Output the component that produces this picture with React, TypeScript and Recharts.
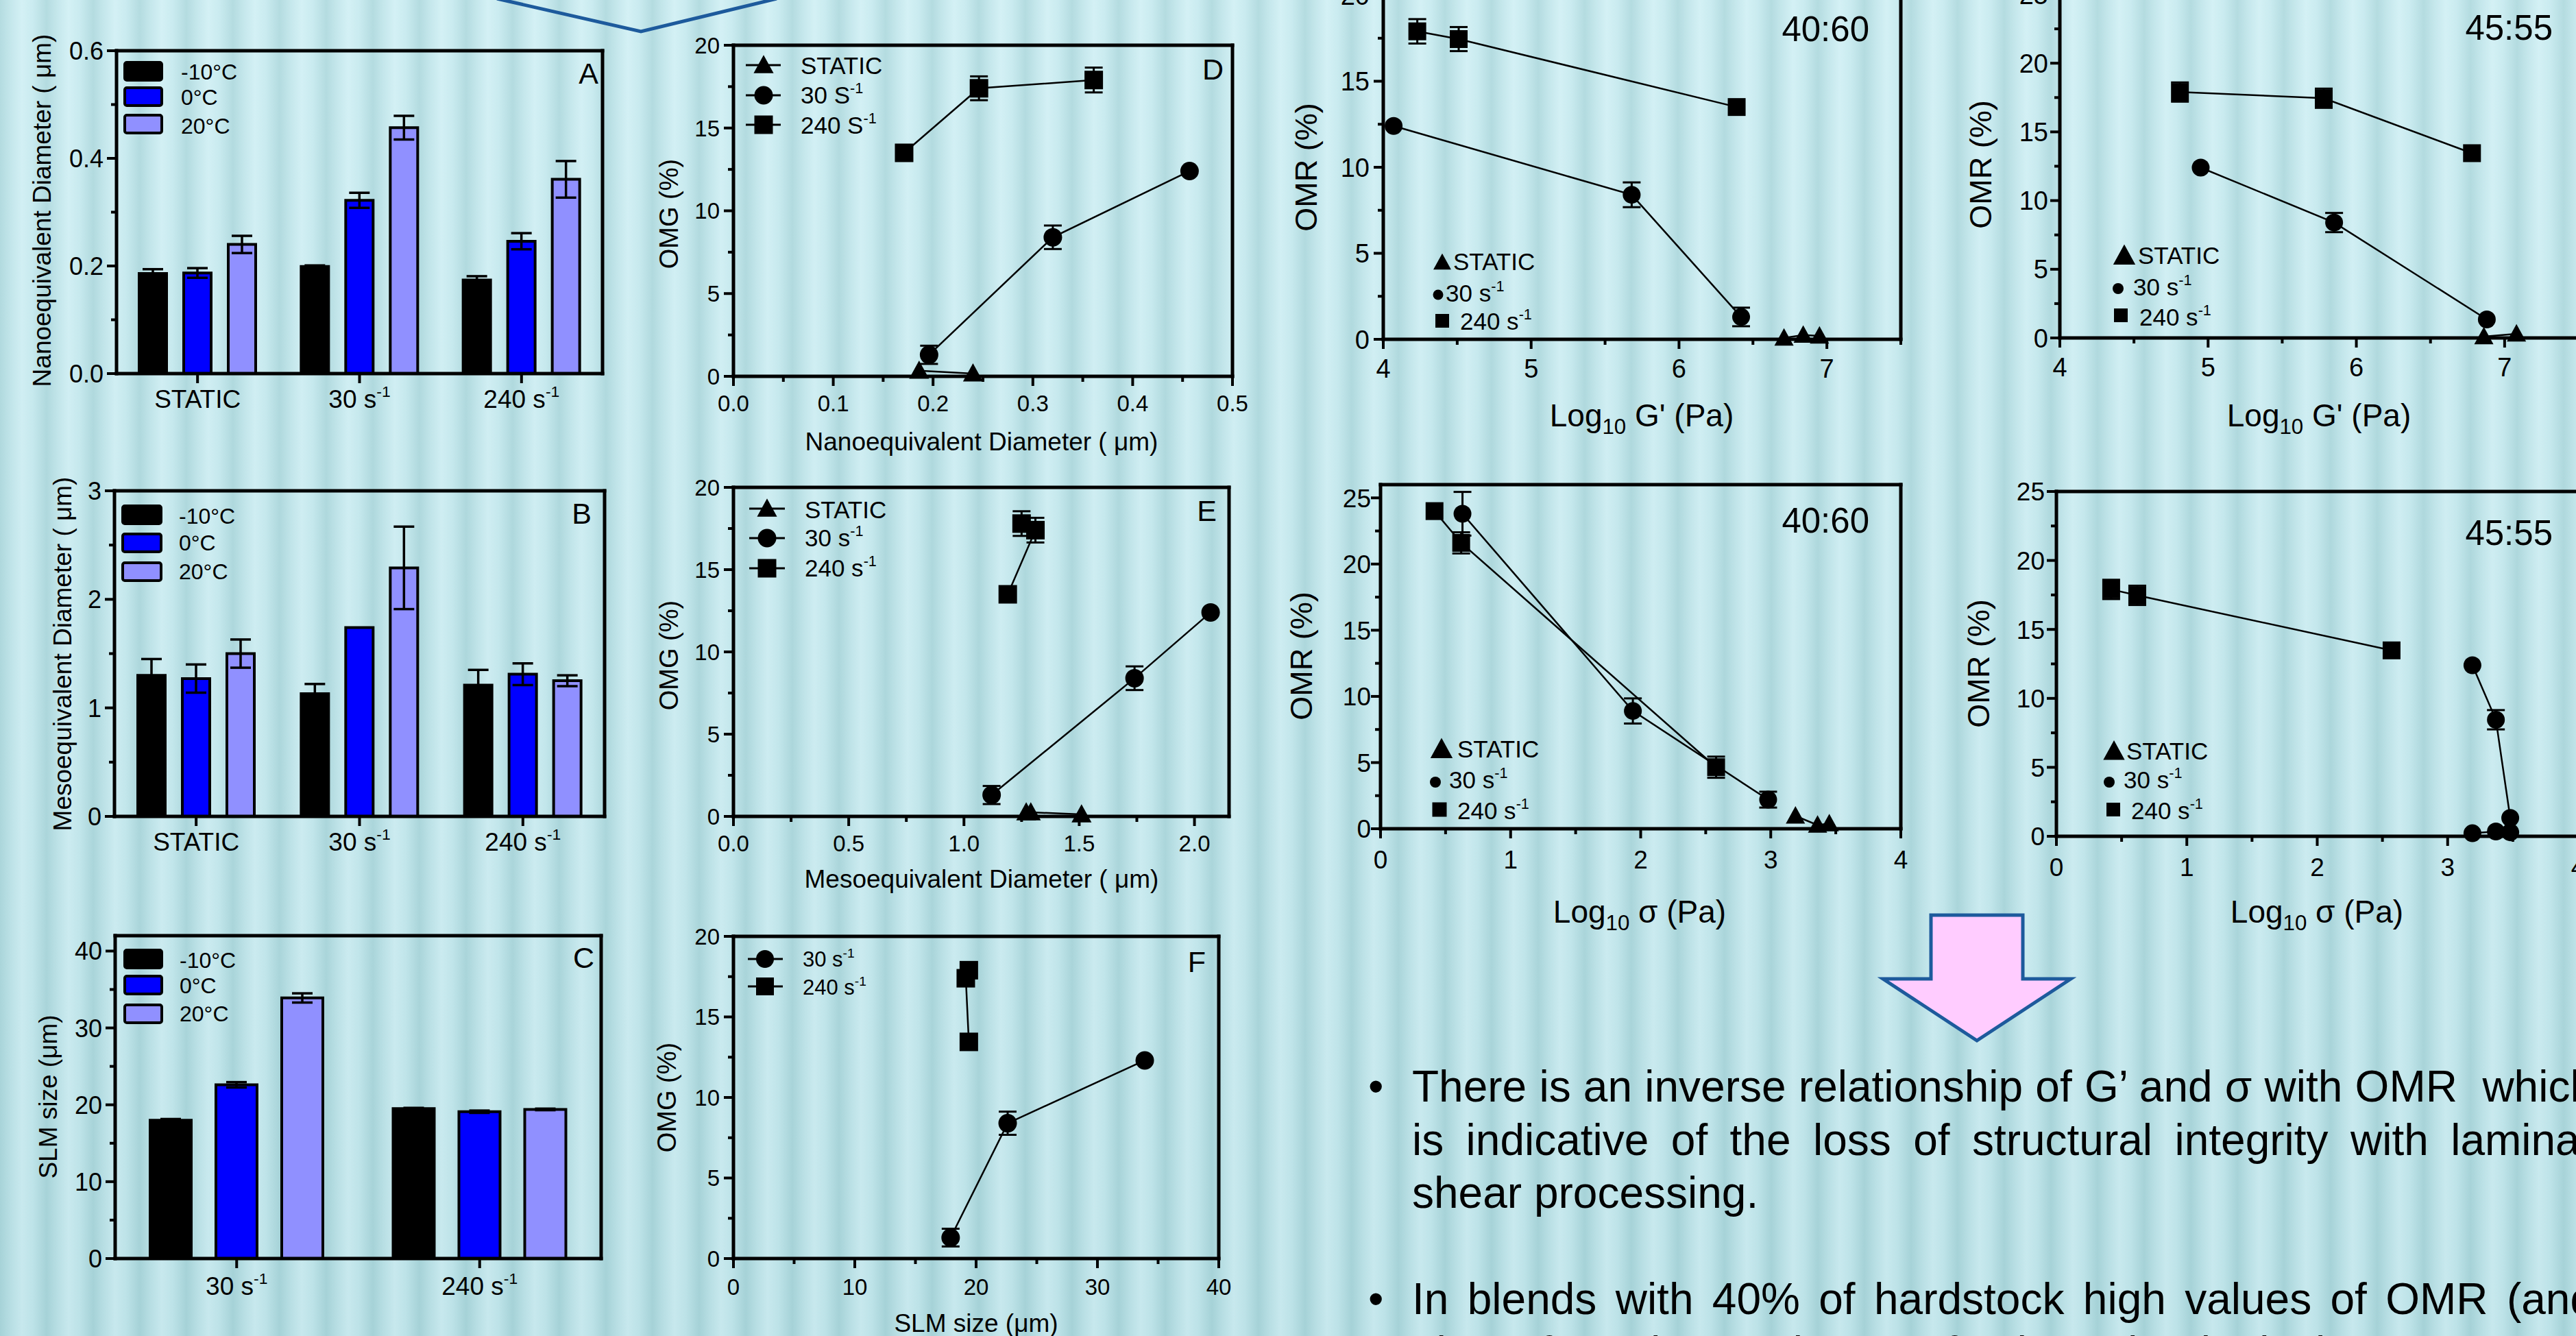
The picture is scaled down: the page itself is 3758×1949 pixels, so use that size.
import React from 'react';
import { BarChart, Bar, XAxis, YAxis, ErrorBar, ScatterChart, Scatter } from 'recharts';

const FONT = "'Liberation Sans', Arial, Helvetica, sans-serif";
const INK = '#000000';
const C_M10 = '#000000';
const C_0 = '#0000ff';
const C_20 = '#9090ff';

// ===================== DATA =====================
const catsShear3 = ['STATIC', '30 s-1', '240 s-1'];
const catsShear2 = ['30 s-1', '240 s-1'];
const tempLabels = ['-10°C', '0°C', '20°C'];

// A: nanoequivalent diameter (µm)
const nanoM10 = [0.186, 0.199, 0.174];
const nanoM10Err = [0.008, 0.002, 0.007];
const nano0 = [0.187, 0.322, 0.246];
const nano0Err = [0.009, 0.014, 0.015];
const nano20 = [0.24, 0.457, 0.361];
const nano20Err = [0.016, 0.022, 0.034];

// B: mesoequivalent diameter (µm)
const mesoM10 = [1.3, 1.13, 1.21];
const mesoM10Err = [0.15, 0.09, 0.14];
const meso0 = [1.27, 1.74, 1.31];
const meso0Err = [0.13, 0, 0.1];
const meso20 = [1.5, 2.29, 1.25];
const meso20Err = [0.13, 0.38, 0.05];

// C: SLM size (µm)
const slmM10 = [18.0, 19.5];
const slmM10Err = [0.15, 0.1];
const slm0 = [22.6, 19.1];
const slm0Err = [0.35, 0.15];
const slm20 = [33.9, 19.4];
const slm20Err = [0.6, 0.1];

// D: OMG vs nanoequivalent diameter
const dStaticX = [0.186, 0.24];
const dStaticY = [0.34, 0.17];
const d30X = [0.196, 0.32, 0.457];
const d30Y = [1.3, 8.4, 12.4];
const d30Err = [0.55, 0.71, 0];
const d240X = [0.171, 0.246, 0.361];
const d240Y = [13.5, 17.4, 17.9];
const d240Err = [0, 0.72, 0.75];

// E: OMG vs mesoequivalent diameter
const eStaticX = [1.27, 1.29, 1.51];
const eStaticY = [0.25, 0.25, 0.12];
const e30X = [1.12, 1.74, 2.07];
const e30Y = [1.3, 8.4, 12.4];
const e30Err = [0.55, 0.72, 0];
const e240X = [1.19, 1.31, 1.25];
const e240Y = [13.5, 17.4, 17.8];
const e240Err = [0, 0.75, 0.75];

// F: OMG vs SLM size
const f30X = [17.9, 22.6, 33.9];
const f30Y = [1.3, 8.4, 12.3];
const f30Err = [0.55, 0.72, 0];
const f240X = [19.4, 19.15, 19.4];
const f240Y = [13.45, 17.4, 17.9];

// OMR vs log G' (40:60)
const g1StaticX = [6.71, 6.84, 6.95];
const g1StaticY = [0.08, 0.25, 0.2];
const g130X = [4.07, 5.68, 6.42];
const g130Y = [12.4, 8.4, 1.3];
const g130Err = [0, 0.72, 0.54];
const g1240X = [4.23, 4.51, 6.39];
const g1240Y = [17.9, 17.45, 13.5];
const g1240Err = [0.71, 0.7, 0];

// OMR vs log G' (45:55)
const g2StaticX = [6.86, 7.08];
const g2StaticY = [0.1, 0.3];
const g230X = [4.95, 5.85, 6.88];
const g230Y = [12.4, 8.4, 1.35];
const g230Err = [0, 0.7, 0];
const g2240X = [4.81, 5.78, 6.78];
const g2240Y = [17.9, 17.45, 13.45];
const g2240Err = [0.7, 0.7, 0];

// OMR vs log sigma (40:60)
const s1StaticX = [3.19, 3.36, 3.45];
const s1StaticY = [0.97, 0.28, 0.39];
const s130X = [0.63, 1.94, 2.98];
const s130Y = [23.8, 8.9, 2.2];
const s130Err = [1.65, 0.95, 0.6];
const s1240X = [0.415, 0.62, 2.58];
const s1240Y = [24.0, 21.6, 4.65];
const s1240Err = [0, 0.8, 0.8];

// OMR vs log sigma (45:55)
const s2StaticX = [3.19, 3.37, 3.48];
const s2StaticY = [0.22, 0.35, 0.29];
const s230X = [3.19, 3.37, 3.48];
const s230Y = [12.4, 8.45, 1.33];
const s230Err = [0, 0.7, 0];
const s2240X = [0.42, 0.62, 2.57];
const s2240Y = [17.9, 17.47, 13.48];
const s2240Err = [0.7, 0.7, 0];

// tick values
const ticksNanoY = [0, 0.1, 0.2, 0.3, 0.4, 0.5, 0.6];
const majorsNanoY = [0, 0.2, 0.4, 0.6];
const ticksMesoY = [0, 0.5, 1, 1.5, 2, 2.5, 3];
const majorsMesoY = [0, 1, 2, 3];
const ticksSlmY = [0, 5, 10, 15, 20, 25, 30, 35, 40];
const majorsSlmY = [0, 10, 20, 30, 40];
const ticksOmgY = [0, 2.5, 5, 7.5, 10, 12.5, 15, 17.5, 20];
const majorsOmgY = [0, 5, 10, 15, 20];
const ticksNanoX = [0, 0.05, 0.1, 0.15, 0.2, 0.25, 0.3, 0.35, 0.4, 0.45, 0.5];
const majorsNanoX = [0, 0.1, 0.2, 0.3, 0.4, 0.5];
const ticksMesoX = [0, 0.25, 0.5, 0.75, 1, 1.25, 1.5, 1.75, 2];
const majorsMesoX = [0, 0.5, 1, 1.5, 2];
const ticksSlmX = [0, 5, 10, 15, 20, 25, 30, 35, 40];
const majorsSlmX = [0, 10, 20, 30, 40];
const ticksGX = [4, 4.5, 5, 5.5, 6, 6.5, 7, 7.5];
const majorsGX = [4, 5, 6, 7];
const ticksOmr20 = [0, 2.5, 5, 7.5, 10, 12.5, 15, 17.5, 20];
const majorsOmr20 = [0, 5, 10, 15, 20];
const ticksOmr25 = [0, 2.5, 5, 7.5, 10, 12.5, 15, 17.5, 20, 22.5, 25];
const majorsOmr25 = [0, 5, 10, 15, 20, 25];
const ticksSX = [0, 0.5, 1, 1.5, 2, 2.5, 3, 3.5, 4];
const majorsSX = [0, 1, 2, 3, 4];

// ===================== HELPERS =====================
type Rect = { l: number; t: number; r: number; b: number };
// outer padding around each plot area; every axis takes 1px of it
const P = { left: 100, top: 40, right: 30, bottom: 70 };
const M = { left: P.left - 1, top: P.top - 1, right: P.right - 1, bottom: P.bottom - 1 };
const AX = { stroke: INK, strokeWidth: 5, strokeLinecap: 'square' as const };
const LINE = { stroke: INK, strokeWidth: 2.5 };

const boxStyle = (r: Rect): React.CSSProperties => ({ position: 'absolute', left: r.l - P.left, top: r.t - P.top });
const cw = (r: Rect) => r.r - r.l + P.left + P.right;
const ch = (r: Rect) => r.b - r.t + P.top + P.bottom;
const isIn = (v: number, arr: number[]) => arr.some((m) => Math.abs(m - v) < 1e-6);
const f1 = (v: number) => v.toFixed(1);
const f0 = (v: number) => String(v);

function Sup({ s, children }: { s: number; children: React.ReactNode }) {
  return (
    <tspan dy={-s * 0.42} fontSize={s * 0.62}>
      {children}
    </tspan>
  );
}

function labelWithSup(v: string, s: number) {
  if (v.endsWith('-1')) {
    return (
      <>
        {v.slice(0, -2)}
        <Sup s={s}>-1</Sup>
      </>
    );
  }
  return v;
}

const leftTick = (majors: number[], fmt: (v: number) => string, font: number, gap: number) => (p: any) => {
  const v = p.payload.value as number;
  const maj = isIn(v, majors);
  const len = maj ? 14 : 8;
  return (
    <g>
      <line x1={p.x} x2={p.x - len} y1={p.y} y2={p.y} stroke={INK} strokeWidth={4} />
      {maj && (
        <text x={p.x - gap} y={p.y} dy="0.36em" textAnchor="end" fontSize={font} fontFamily={FONT} fill={INK}>
          {fmt(v)}
        </text>
      )}
    </g>
  );
};

const bottomTick = (majors: number[] | null, fmt: (v: any) => string, font: number, gap: number) => (p: any) => {
  const v = p.payload.value;
  const maj = majors === null ? true : isIn(v as number, majors);
  const len = maj ? 14 : 8;
  const txt = fmt(v);
  return (
    <g>
      <line x1={p.x} x2={p.x} y1={p.y} y2={p.y + len} stroke={INK} strokeWidth={4} />
      {maj && (
        <text x={p.x} y={p.y + gap} dy="0.72em" textAnchor="middle" fontSize={font} fontFamily={FONT} fill={INK}>
          {labelWithSup(txt, font)}
        </text>
      )}
    </g>
  );
};

type Kind = 'circle' | 'square' | 'triangle';
function Mk({ kind, cx, cy, s }: { kind: Kind; cx: number; cy: number; s: number }) {
  if (kind === 'circle') return <circle cx={cx} cy={cy} r={s / 2} fill={INK} />;
  if (kind === 'square') return <rect x={cx - s / 2} y={cy - s / 2} width={s} height={s} fill={INK} />;
  const w = s * 1.08;
  const h = s * 0.98;
  return (
    <polygon
      points={`${cx},${cy - h * 0.56} ${cx - w / 2},${cy + h * 0.44} ${cx + w / 2},${cy + h * 0.44}`}
      fill={INK}
    />
  );
}

// ===================== BAR PANEL =====================
type BarPanelProps = {
  rect: Rect;
  cats: string[];
  vals: number[][];
  errs: number[][];
  yDomain: [number, number];
  yTicks: number[];
  yMajors: number[];
  yFmt: (v: number) => string;
  barSize: number;
  barGap: number;
  tickFont: number;
  catGap: number;
};

function BarPanel(pr: BarPanelProps) {
  const data = pr.cats.map((c, i) => ({
    cat: c,
    v0: pr.vals[0][i],
    e0: pr.errs[0][i],
    v1: pr.vals[1][i],
    e1: pr.errs[1][i],
    v2: pr.vals[2][i],
    e2: pr.errs[2][i],
  }));
  const colors = [C_M10, C_0, C_20];
  return (
    <div style={boxStyle(pr.rect)}>
      <BarChart
        width={cw(pr.rect)}
        height={ch(pr.rect)}
        data={data}
        margin={M}
        barSize={pr.barSize}
        barGap={pr.barGap}
      >
        <XAxis
          dataKey="cat"
          type="category"
          height={1}
          tickSize={0}
          tickMargin={0}
          interval={0}
          tickLine={false}
          axisLine={AX}
          tick={bottomTick(null, (v) => String(v), 37, pr.catGap)}
        />
        <YAxis
          type="number"
          domain={pr.yDomain}
          ticks={pr.yTicks}
          width={1}
          tickSize={0}
          tickMargin={0}
          interval={0}
          tickLine={false}
          axisLine={AX}
          tick={leftTick(pr.yMajors, pr.yFmt, pr.tickFont, 19)}
        />
        <XAxis xAxisId="top" orientation="top" type="number" domain={[0, 1]} height={1} tick={false} tickLine={false} axisLine={AX} />
        <YAxis yAxisId="right" orientation="right" type="number" domain={[0, 1]} width={1} tick={false} tickLine={false} axisLine={AX} />
        {[0, 1, 2].map((k) => (
          <Bar key={k} dataKey={`v${k}`} fill={colors[k]} stroke={INK} strokeWidth={4} isAnimationActive={false}>
            <ErrorBar dataKey={`e${k}`} width={15} stroke={INK} strokeWidth={3.5} />
          </Bar>
        ))}
      </BarChart>
    </div>
  );
}

// ===================== SCATTER PANEL =====================
type Ser = { xs: number[]; ys: number[]; es?: number[]; kind: Kind };
type ScatterPanelProps = {
  rect: Rect;
  xDomain: [number, number];
  xTicks: number[];
  xMajors: number[];
  xFmt: (v: number) => string;
  yDomain: [number, number];
  yTicks: number[];
  yMajors: number[];
  yFmt: (v: number) => string;
  series: Ser[];
  tickFont: number;
  xGap: number;
  yGap: number;
  mk: number;
};

function ScatterPanel(pr: ScatterPanelProps) {
  return (
    <div style={boxStyle(pr.rect)}>
      <ScatterChart width={cw(pr.rect)} height={ch(pr.rect)} margin={M}>
        <XAxis
          type="number"
          dataKey="x"
          domain={pr.xDomain}
          ticks={pr.xTicks}
          height={1}
          tickSize={0}
          tickMargin={0}
          interval={0}
          tickLine={false}
          axisLine={AX}
          tick={bottomTick(pr.xMajors, pr.xFmt, pr.tickFont, pr.xGap)}
        />
        <YAxis
          type="number"
          dataKey="y"
          domain={pr.yDomain}
          ticks={pr.yTicks}
          width={1}
          tickSize={0}
          tickMargin={0}
          interval={0}
          tickLine={false}
          axisLine={AX}
          tick={leftTick(pr.yMajors, pr.yFmt, pr.tickFont, pr.yGap)}
        />
        <XAxis xAxisId="top" orientation="top" type="number" domain={[0, 1]} height={1} tick={false} tickLine={false} axisLine={AX} />
        <YAxis yAxisId="right" orientation="right" type="number" domain={[0, 1]} width={1} tick={false} tickLine={false} axisLine={AX} />
        {pr.series.map((s, k) => (
          <Scatter
            key={k}
            data={s.xs.map((x, i) => ({ x, y: s.ys[i], e: s.es ? s.es[i] : 0 }))}
            line={LINE}
            isAnimationActive={false}
            shape={(p: any) => <Mk kind={s.kind} cx={p.cx} cy={p.cy} s={pr.mk} />}
          >
            {s.es && <ErrorBar dataKey="e" direction="y" width={13} stroke={INK} strokeWidth={3} />}
          </Scatter>
        ))}
      </ScatterChart>
    </div>
  );
}

// ===================== OVERLAY TEXT =====================
function T(props: { x: number; y: number; s: number; a?: 'start' | 'middle' | 'end'; rot?: boolean; children: React.ReactNode }) {
  const { x, y, s, a = 'start', rot = false, children } = props;
  return (
    <text
      x={x}
      y={y}
      fontSize={s}
      fontFamily={FONT}
      fill={INK}
      textAnchor={a}
      dominantBaseline={rot ? 'central' : undefined}
      transform={rot ? `rotate(-90 ${x} ${y})` : undefined}
    >
      {children}
    </text>
  );
}

function LogLabel({ x, y, s, sym }: { x: number; y: number; s: number; sym: string }) {
  return (
    <text x={x} y={y} fontSize={s} fontFamily={FONT} fill={INK} textAnchor="middle">
      Log
      <tspan dy={s * 0.24} fontSize={s * 0.68}>
        10
      </tspan>
      <tspan dy={-s * 0.24}>{` ${sym} (Pa)`}</tspan>
    </text>
  );
}

function BarLegend({ x, w, tx, cys, bases, font }: { x: number; w: number; tx: number; cys: number[]; bases: number[]; font: number }) {
  const colors = [C_M10, C_0, C_20];
  return (
    <g>
      {tempLabels.map((lab, i) => (
        <g key={i}>
          <rect x={x} y={cys[i] - 13} width={w} height={26} rx={3} fill={colors[i]} stroke={INK} strokeWidth={4} />
          <T x={tx} y={bases[i]} s={font}>
            {lab}
          </T>
        </g>
      ))}
    </g>
  );
}

function LineLegend({
  x1, x2, cx, tx, cys, bases, font, labels, kinds, mk,
}: { x1: number; x2: number; cx: number; tx: number; cys: number[]; bases: number[]; font: number; labels: string[]; kinds: Kind[]; mk: number }) {
  return (
    <g>
      {labels.map((lab, i) => (
        <g key={i}>
          <line x1={x1} x2={x2} y1={cys[i]} y2={cys[i]} stroke={INK} strokeWidth={3} />
          <Mk kind={kinds[i]} cx={cx} cy={cys[i]} s={mk} />
          <T x={tx} y={bases[i]} s={font}>
            {labelWithSup(lab, font)}
          </T>
        </g>
      ))}
    </g>
  );
}

type GL = { tri: [number, number, number]; cir: [number, number, number]; sq: [number, number, number]; tx: number[]; bases: number[] };
function GlyphLegend({ g, font }: { g: GL; font: number }) {
  return (
    <g>
      <Mk kind="triangle" cx={g.tri[0]} cy={g.tri[1]} s={g.tri[2]} />
      <T x={g.tx[0]} y={g.bases[0]} s={font}>STATIC</T>
      <Mk kind="circle" cx={g.cir[0]} cy={g.cir[1]} s={g.cir[2]} />
      <T x={g.tx[1]} y={g.bases[1]} s={font}>{labelWithSup('30 s-1', font)}</T>
      <Mk kind="square" cx={g.sq[0]} cy={g.sq[1]} s={g.sq[2]} />
      <T x={g.tx[2]} y={g.bases[2]} s={font}>{labelWithSup('240 s-1', font)}</T>
    </g>
  );
}

// ===================== LAYOUT =====================
const rA: Rect = { l: 170, t: 74, r: 879, b: 545 };
const rB: Rect = { l: 167, t: 716, r: 882, b: 1191 };
const rC: Rect = { l: 168, t: 1365, r: 877, b: 1836 };
const rD: Rect = { l: 1070, t: 66, r: 1798, b: 549 };
const rE: Rect = { l: 1070, t: 711, r: 1793, b: 1191 };
const rF: Rect = { l: 1070, t: 1366, r: 1778, b: 1836 };
const rG1: Rect = { l: 2018, t: -7, r: 2773, b: 495 };
const rG2: Rect = { l: 3005, t: -8, r: 3762, b: 493 };
const rS1: Rect = { l: 2014, t: 707, r: 2773, b: 1209 };
const rS2: Rect = { l: 3000, t: 717, r: 3761, b: 1220 };

const BG =
  'linear-gradient(180deg, rgba(255,255,255,0.10), rgba(0,60,70,0.04)), ' +
  'repeating-linear-gradient(90deg, #acd8dd 0px, #bfe5ea 16px, #cfeff4 32px, #c4e9ee 48px, #acd8dd 68px)';

export default function App() {
  return (
    <div
      style={{
        position: 'absolute',
        left: 0,
        top: 0,
        width: 3758,
        height: 1949,
        overflow: 'hidden',
        background: BG,
        fontFamily: FONT,
      }}
    >
      <BarPanel
        rect={rA}
        cats={catsShear3}
        vals={[nanoM10, nano0, nano20]}
        errs={[nanoM10Err, nano0Err, nano20Err]}
        yDomain={[0, 0.6]}
        yTicks={ticksNanoY}
        yMajors={majorsNanoY}
        yFmt={f1}
        barSize={40}
        barGap={25}
        tickFont={36}
        catGap={23}
      />
      <BarPanel
        rect={rB}
        cats={catsShear3}
        vals={[mesoM10, meso0, meso20]}
        errs={[mesoM10Err, meso0Err, meso20Err]}
        yDomain={[0, 3]}
        yTicks={ticksMesoY}
        yMajors={majorsMesoY}
        yFmt={f0}
        barSize={40}
        barGap={25}
        tickFont={36}
        catGap={23}
      />
      <BarPanel
        rect={rC}
        cats={catsShear2}
        vals={[slmM10, slm0, slm20]}
        errs={[slmM10Err, slm0Err, slm20Err]}
        yDomain={[0, 42]}
        yTicks={ticksSlmY}
        yMajors={majorsSlmY}
        yFmt={f0}
        barSize={60}
        barGap={36}
        tickFont={36}
        catGap={26}
      />
      <ScatterPanel
        rect={rD}
        xDomain={[0, 0.5]}
        xTicks={ticksNanoX}
        xMajors={majorsNanoX}
        xFmt={f1}
        yDomain={[0, 20]}
        yTicks={ticksOmgY}
        yMajors={majorsOmgY}
        yFmt={f0}
        tickFont={33}
        xGap={27}
        yGap={20}
        mk={27}
        series={[
          { xs: dStaticX, ys: dStaticY, kind: 'triangle' },
          { xs: d30X, ys: d30Y, es: d30Err, kind: 'circle' },
          { xs: d240X, ys: d240Y, es: d240Err, kind: 'square' },
        ]}
      />
      <ScatterPanel
        rect={rE}
        xDomain={[0, 2.15]}
        xTicks={ticksMesoX}
        xMajors={majorsMesoX}
        xFmt={f1}
        yDomain={[0, 20]}
        yTicks={ticksOmgY}
        yMajors={majorsOmgY}
        yFmt={f0}
        tickFont={33}
        xGap={27}
        yGap={20}
        mk={27}
        series={[
          { xs: eStaticX, ys: eStaticY, kind: 'triangle' },
          { xs: e30X, ys: e30Y, es: e30Err, kind: 'circle' },
          { xs: e240X, ys: e240Y, es: e240Err, kind: 'square' },
        ]}
      />
      <ScatterPanel
        rect={rF}
        xDomain={[0, 40]}
        xTicks={ticksSlmX}
        xMajors={majorsSlmX}
        xFmt={f0}
        yDomain={[0, 20]}
        yTicks={ticksOmgY}
        yMajors={majorsOmgY}
        yFmt={f0}
        tickFont={33}
        xGap={29}
        yGap={20}
        mk={27}
        series={[
          { xs: f30X, ys: f30Y, es: f30Err, kind: 'circle' },
          { xs: f240X, ys: f240Y, kind: 'square' },
        ]}
      />
      <ScatterPanel
        rect={rG1}
        xDomain={[4, 7.5]}
        xTicks={ticksGX}
        xMajors={majorsGX}
        xFmt={f0}
        yDomain={[0, 20]}
        yTicks={ticksOmr20}
        yMajors={majorsOmr20}
        yFmt={f0}
        tickFont={38}
        xGap={29}
        yGap={20}
        mk={26}
        series={[
          { xs: g1StaticX, ys: g1StaticY, kind: 'triangle' },
          { xs: g130X, ys: g130Y, es: g130Err, kind: 'circle' },
          { xs: g1240X, ys: g1240Y, es: g1240Err, kind: 'square' },
        ]}
      />
      <ScatterPanel
        rect={rG2}
        xDomain={[4, 7.5]}
        xTicks={ticksGX}
        xMajors={majorsGX}
        xFmt={f0}
        yDomain={[0, 25]}
        yTicks={ticksOmr25}
        yMajors={majorsOmr25}
        yFmt={f0}
        tickFont={38}
        xGap={29}
        yGap={17}
        mk={26}
        series={[
          { xs: g2StaticX, ys: g2StaticY, kind: 'triangle' },
          { xs: g230X, ys: g230Y, es: g230Err, kind: 'circle' },
          { xs: g2240X, ys: g2240Y, es: g2240Err, kind: 'square' },
        ]}
      />
      <ScatterPanel
        rect={rS1}
        xDomain={[0, 4]}
        xTicks={ticksSX}
        xMajors={majorsSX}
        xFmt={f0}
        yDomain={[0, 26]}
        yTicks={ticksOmr25}
        yMajors={majorsOmr25}
        yFmt={f0}
        tickFont={37}
        xGap={31}
        yGap={14}
        mk={26}
        series={[
          { xs: s1StaticX, ys: s1StaticY, kind: 'triangle' },
          { xs: s130X, ys: s130Y, es: s130Err, kind: 'circle' },
          { xs: s1240X, ys: s1240Y, es: s1240Err, kind: 'square' },
        ]}
      />
      <ScatterPanel
        rect={rS2}
        xDomain={[0, 4]}
        xTicks={ticksSX}
        xMajors={majorsSX}
        xFmt={f0}
        yDomain={[0, 25]}
        yTicks={ticksOmr25}
        yMajors={majorsOmr25}
        yFmt={f0}
        tickFont={37}
        xGap={31}
        yGap={17}
        mk={26}
        series={[
          { xs: s2StaticX, ys: s2StaticY, kind: 'circle' },
          { xs: s230X, ys: s230Y, es: s230Err, kind: 'circle' },
          { xs: s2240X, ys: s2240Y, es: s2240Err, kind: 'square' },
        ]}
      />

      {/* overlay: titles, legends, decorations */}
      <svg
        width={3758}
        height={1949}
        style={{ position: 'absolute', left: 0, top: 0, pointerEvents: 'none' }}
      >
        {/* blue V line at top */}
        <polyline points="725,-2 935,46 1133,-2" fill="none" stroke="#1d5a9c" strokeWidth={5} />

        {/* y-axis titles */}
        <T x={61} y={307} s={37} a="middle" rot>Nanoequivalent Diameter ( μm)</T>
        <T x={91} y={954} s={37} a="middle" rot>Mesoequivalent Diameter ( μm)</T>
        <T x={70} y={1600} s={37} a="middle" rot>SLM size (μm)</T>
        <T x={976} y={312} s={38} a="middle" rot>OMG (%)</T>
        <T x={976} y={956} s={38} a="middle" rot>OMG (%)</T>
        <T x={973} y={1601} s={38} a="middle" rot>OMG (%)</T>
        <T x={1905} y={244} s={45} a="middle" rot>OMR (%)</T>
        <T x={2889} y={240} s={45} a="middle" rot>OMR (%)</T>
        <T x={1898} y={957} s={45} a="middle" rot>OMR (%)</T>
        <T x={2886} y={968} s={45} a="middle" rot>OMR (%)</T>

        {/* x-axis titles */}
        <T x={1432} y={657} s={37} a="middle">Nanoequivalent Diameter ( μm)</T>
        <T x={1432} y={1295} s={37} a="middle">Mesoequivalent Diameter ( μm)</T>
        <T x={1424} y={1943} s={37} a="middle">SLM size (μm)</T>
        <LogLabel x={2395} y={622} s={46} sym="G'" />
        <LogLabel x={3383} y={622} s={46} sym="G'" />
        <LogLabel x={2392} y={1346} s={46} sym="σ" />
        <LogLabel x={3380} y={1346} s={46} sym="σ" />

        {/* panel letters */}
        <T x={873} y={122} s={43} a="end">A</T>
        <T x={863} y={764} s={43} a="end">B</T>
        <T x={867} y={1412} s={43} a="end">C</T>
        <T x={1785} y={116} s={43} a="end">D</T>
        <T x={1775} y={760} s={43} a="end">E</T>
        <T x={1759} y={1418} s={43} a="end">F</T>

        {/* blend ratios */}
        <T x={2727} y={60} s={51} a="end">40:60</T>
        <T x={3724} y={58} s={51} a="end">45:55</T>
        <T x={2727} y={777} s={51} a="end">40:60</T>
        <T x={3724} y={795} s={51} a="end">45:55</T>

        {/* bar legends */}
        <BarLegend x={182} w={54} tx={264} cys={[104, 141, 181]} bases={[116, 153, 195]} font={32} />
        <BarLegend x={179} w={56} tx={261} cys={[751, 792, 834]} bases={[764, 803, 845]} font={32} />
        <BarLegend x={182} w={54} tx={262} cys={[1399, 1437, 1479]} bases={[1412, 1449, 1490]} font={32} />

        {/* scatter legends with lines */}
        <LineLegend
          x1={1088} x2={1139} cx={1114} tx={1168}
          cys={[95, 139, 182]} bases={[108, 151, 195]} font={35}
          labels={['STATIC', '30 S-1', '240 S-1']} kinds={['triangle', 'circle', 'square']} mk={27}
        />
        <LineLegend
          x1={1093} x2={1145} cx={1119} tx={1174}
          cys={[742, 785, 829]} bases={[756, 797, 841]} font={35}
          labels={['STATIC', '30 s-1', '240 s-1']} kinds={['triangle', 'circle', 'square']} mk={27}
        />
        <LineLegend
          x1={1091} x2={1142} cx={1116} tx={1171}
          cys={[1399, 1439]} bases={[1410, 1451]} font={31}
          labels={['30 s-1', '240 s-1']} kinds={['circle', 'square']} mk={26}
        />

        {/* glyph legends */}
        <GlyphLegend font={35} g={{ tri: [2104, 383, 24], cir: [2098, 430, 15], sq: [2104, 468, 20], tx: [2120, 2109, 2130], bases: [394, 440, 481] }} />
        <GlyphLegend font={35} g={{ tri: [3099, 373, 30], cir: [3090, 421, 16], sq: [3094, 460, 20], tx: [3119, 3112, 3121], bases: [385, 431, 475] }} />
        <GlyphLegend font={35} g={{ tri: [2103, 1093, 30], cir: [2094, 1141, 16], sq: [2100, 1181, 21], tx: [2126, 2114, 2126], bases: [1105, 1150, 1195] }} />
        <GlyphLegend font={35} g={{ tri: [3084, 1096, 29], cir: [3077, 1141, 16], sq: [3083, 1181, 20], tx: [3102, 3098, 3109], bases: [1108, 1150, 1195] }} />

        {/* pink arrow */}
        <polygon
          points="2817,1335 2951,1335 2951,1428 3021,1428 2884,1518 2747,1428 2817,1428"
          fill="#ffccff"
          stroke="#1d5a9c"
          strokeWidth={5}
        />
      </svg>

      {/* bullet text */}
      <div
        style={{
          position: 'absolute',
          left: 2060,
          top: 1547,
          width: 1725,
          fontFamily: FONT,
          fontSize: 64,
          lineHeight: '77.5px',
          color: INK,
        }}
      >
        <div style={{ position: 'relative', textAlign: 'justify', textAlignLast: 'justify' }}>
          <span style={{ position: 'absolute', left: -64 }}>•</span>
          There is an inverse relationship of G’ and σ with OMR{'\u00a0'} which
        </div>
        <div style={{ textAlign: 'justify', textAlignLast: 'justify' }}>
          is indicative of the loss of structural integrity with laminar
        </div>
        <div>shear processing.</div>
        <div>{'\u00a0'}</div>
        <div style={{ position: 'relative', textAlign: 'justify', textAlignLast: 'justify' }}>
          <span style={{ position: 'absolute', left: -64 }}>•</span>
          In blends with 40% of hardstock high values of OMR (and
        </div>
        <div style={{ textAlign: 'justify', textAlignLast: 'justify' }}>
          also for the values of the rheological parameters
        </div>
      </div>
    </div>
  );
}
